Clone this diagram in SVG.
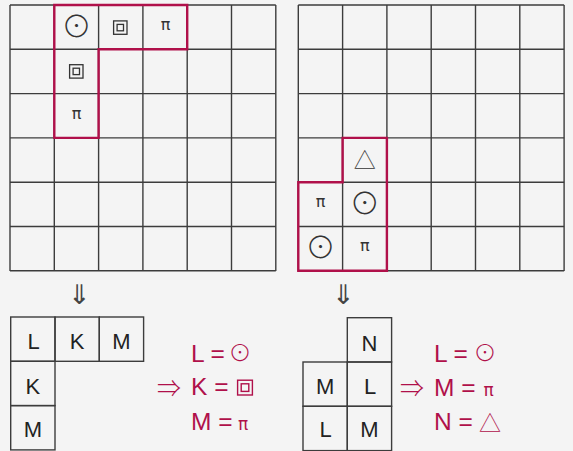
<svg xmlns="http://www.w3.org/2000/svg" width="573" height="451" viewBox="0 0 573 451">
<style>
.bg{fill:#f4f4f4}
.grid line{stroke:#3c3c3c;stroke-width:1.4}
.box{fill:none;stroke:#3c3c3c;stroke-width:1.4}
.hl{fill:none;stroke:#b0104a;stroke-width:2.4;stroke-linejoin:miter}
.sym{font-family:"Noto Sans CJK SC","DejaVu Sans",sans-serif;font-weight:300;fill:#333;text-anchor:middle}
.pi{font-family:"DejaVu Sans",sans-serif;font-size:16px;fill:#333;text-anchor:middle}
.sq{fill:none;stroke:#333;stroke-width:1.3}
.sqr{fill:none;stroke:#b0104a;stroke-width:1.4}
.let{font-family:"Liberation Sans",Arial,sans-serif;font-size:22px;fill:#222;text-anchor:middle}
.eq{font-family:"Liberation Sans",Arial,sans-serif;font-size:24.5px;fill:#b0104a}
.eqs{font-family:"Noto Sans CJK SC","DejaVu Sans",sans-serif;font-weight:300;fill:#b0104a}
.eqpi{font-family:"DejaVu Sans",sans-serif;font-size:17px;fill:#b0104a;text-anchor:middle}
.arr{font-family:"Noto Sans CJK SC","DejaVu Sans",sans-serif;font-weight:300;font-size:27px;fill:#444;text-anchor:middle}
</style>
<rect class="bg" x="0" y="0" width="573" height="451"/>

<g id="grid-left" class="grid">
<line x1="10" y1="5" x2="10" y2="271"/><line x1="54.3" y1="5" x2="54.3" y2="271"/><line x1="98.6" y1="5" x2="98.6" y2="271"/><line x1="142.9" y1="5" x2="142.9" y2="271"/><line x1="187.2" y1="5" x2="187.2" y2="271"/><line x1="231.5" y1="5" x2="231.5" y2="271"/><line x1="275.8" y1="5" x2="275.8" y2="271"/>
<line x1="10" y1="5" x2="275.8" y2="5"/><line x1="10" y1="49.3" x2="275.8" y2="49.3"/><line x1="10" y1="93.6" x2="275.8" y2="93.6"/><line x1="10" y1="137.9" x2="275.8" y2="137.9"/><line x1="10" y1="182.2" x2="275.8" y2="182.2"/><line x1="10" y1="226.5" x2="275.8" y2="226.5"/><line x1="10" y1="270.8" x2="275.8" y2="270.8"/>
</g>
<g id="grid-right" class="grid">
<line x1="298.3" y1="5" x2="298.3" y2="271"/><line x1="342.6" y1="5" x2="342.6" y2="271"/><line x1="386.9" y1="5" x2="386.9" y2="271"/><line x1="431.2" y1="5" x2="431.2" y2="271"/><line x1="475.5" y1="5" x2="475.5" y2="271"/><line x1="519.8" y1="5" x2="519.8" y2="271"/><line x1="564.1" y1="5" x2="564.1" y2="271"/>
<line x1="298.3" y1="5" x2="564.1" y2="5"/><line x1="298.3" y1="49.3" x2="564.1" y2="49.3"/><line x1="298.3" y1="93.6" x2="564.1" y2="93.6"/><line x1="298.3" y1="137.9" x2="564.1" y2="137.9"/><line x1="298.3" y1="182.2" x2="564.1" y2="182.2"/><line x1="298.3" y1="226.5" x2="564.1" y2="226.5"/><line x1="298.3" y1="270.8" x2="564.1" y2="270.8"/>
</g>

<g id="shape-left">
<polygon class="hl" points="54.3,5 187.2,5 187.2,49.3 98.6,49.3 98.6,137.9 54.3,137.9"/>
<text class="sym" x="76.5" y="37" font-size="30">⊙</text>
<rect class="sq" x="113.6" y="20.9" width="13.4" height="13.4"/>
<rect class="sq" x="117.1" y="24.4" width="6.4" height="6.4"/>
<text class="pi" x="165.5" y="30">π</text>
<rect class="sq" x="69.6" y="64.7" width="13.4" height="13.4"/>
<rect class="sq" x="73.1" y="68.2" width="6.4" height="6.4"/>
<text class="pi" x="76.5" y="119">π</text>
</g>
<g id="shape-right">
<polygon class="hl" points="342.6,137.9 386.9,137.9 386.9,270.8 298.3,270.8 298.3,182.2 342.6,182.2"/>
<text class="sym" x="364.8" y="168" font-size="22">△</text>
<text class="pi" x="320.5" y="207">π</text>
<text class="sym" x="364.8" y="214" font-size="30">⊙</text>
<text class="sym" x="320.5" y="258" font-size="30">⊙</text>
<text class="pi" x="364.8" y="251">π</text>
</g>

<g id="connectors">
<text class="arr" x="79" y="304">⇓</text>
<text class="arr" x="343.3" y="304">⇓</text>
</g>

<g id="result-left">
<rect class="box" x="10.7" y="317" width="44.3" height="44.3"/>
<rect class="box" x="55" y="317" width="44.3" height="44.3"/>
<rect class="box" x="99.3" y="317" width="44.3" height="44.3"/>
<rect class="box" x="10.7" y="361.3" width="44.3" height="44.3"/>
<rect class="box" x="10.7" y="405.6" width="44.3" height="44.3"/>
<text class="let" x="33.5" y="349">L</text>
<text class="let" x="77.1" y="349">K</text>
<text class="let" x="121.4" y="349">M</text>
<text class="let" x="32.8" y="393.5">K</text>
<text class="let" x="32.8" y="437">M</text>
</g>
<g id="eq-left">
<text class="eqs" x="157" y="397" font-size="24">⇒</text>
<text class="eq" x="191" y="361.7">L =</text>
<text class="eq" x="191" y="395">K =</text>
<text class="eq" x="191" y="430">M =</text>
<text class="eqs" x="240" y="361" font-size="23" text-anchor="middle">⊙</text>
<rect class="sqr" x="237.6" y="380.2" width="14.8" height="14.8"/>
<rect class="sqr" x="241.2" y="383.8" width="7.6" height="7.6"/>
<text class="eqpi" x="243" y="430">π</text>
</g>

<g id="result-right">
<rect class="box" x="347.3" y="317.7" width="44.3" height="44.3"/>
<rect class="box" x="303" y="362" width="44.3" height="44.3"/>
<rect class="box" x="347.3" y="362" width="44.3" height="44.3"/>
<rect class="box" x="303" y="406.3" width="44.3" height="44.3"/>
<rect class="box" x="347.3" y="406.3" width="44.3" height="44.3"/>
<text class="let" x="369.5" y="351">N</text>
<text class="let" x="325.2" y="393.5">M</text>
<text class="let" x="370" y="393.5">L</text>
<text class="let" x="325.7" y="437">L</text>
<text class="let" x="369.5" y="437">M</text>
</g>
<g id="eq-right">
<text class="eqs" x="400" y="397" font-size="24">⇒</text>
<text class="eq" x="434" y="361.7">L =</text>
<text class="eq" x="434" y="395.7">M =</text>
<text class="eq" x="434" y="430">N =</text>
<text class="eqs" x="485" y="361" font-size="23" text-anchor="middle">⊙</text>
<text class="eqpi" x="488.5" y="395.7">π</text>
<text class="eqs" x="490" y="431" font-size="22" text-anchor="middle">△</text>
</g>
</svg>
